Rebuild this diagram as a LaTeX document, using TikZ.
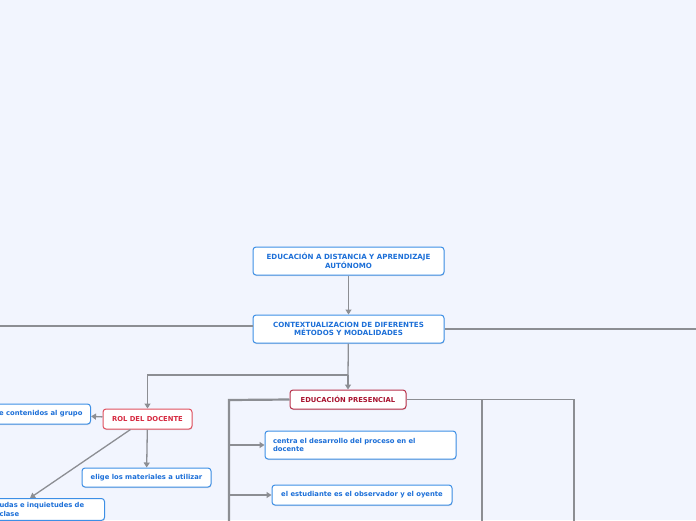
\documentclass[tikz,border=0pt]{standalone}
\usepackage{fontspec}
\newfontfamily\mapfont{DejaVu Sans}
\usepackage{tikz}
\usetikzlibrary{positioning,calc,arrows.meta,shadows}
\definecolor{canvas}{HTML}{F2F5FE}
\definecolor{wire}{HTML}{8C8E93}
\definecolor{topicline}{HTML}{3D8FE6}
\definecolor{topictext}{HTML}{1C6FD8}
\definecolor{rolline}{HTML}{E0505F}
\definecolor{roltext}{HTML}{D6283F}
\definecolor{presline}{HTML}{B8314A}
\definecolor{prestext}{HTML}{A8132F}

\begin{document}
\begin{tikzpicture}[
      x=1pt, y=-1pt,
      >={Triangle[width=6pt,length=5pt]},
      font=\mapfont\bfseries\fontsize{6.8}{8.6}\selectfont,
      box/.style={draw=topicline,fill=white,line width=1pt,rounded corners=3pt,
        text=topictext,inner xsep=7pt,inner ysep=3pt,
        drop shadow={shadow xshift=0.4pt,shadow yshift=-1pt,opacity=0.25}},
      main/.style={box,minimum width=191pt,minimum height=28pt,align=center,
        font=\mapfont\bfseries\fontsize{7.1}{8.8}\selectfont},
      sub/.style={box,draw=rolline,text=roltext,minimum height=20pt},
      pres/.style={box,draw=presline,text=prestext,minimum height=19pt},
      wire/.style={draw=wire,line width=1.3pt},
      trunk/.style={draw=wire,line width=2.2pt},
    ]
    \fill[canvas] (0,0) rectangle (696,520);
    \useasboundingbox (0,0) rectangle (696,520);
    \clip (0,0) rectangle (696,520);

    % central topics
    \node[main] (dist) at (348.5,261) {EDUCACIÓN A DISTANCIA Y APRENDIZAJE\\AUTÓNOMO};
    \node[main] (ctx) at (348.5,329) {CONTEXTUALIZACION DE DIFERENTES\\MÉTODOS Y MODALIDADES};
    \node[sub,minimum width=89pt] (rol) at (147.5,419) {ROL DEL DOCENTE};
    \node[pres,minimum width=116pt] (presencial) at (348,399.5) {EDUCACIÓN PRESENCIAL};

    % rol del docente
    \node[box,minimum height=20pt,anchor=east,inner xsep=8pt] (grupo) at (91,414) {e contenidos al grupo};
    \node[box,minimum width=129pt,minimum height=19pt] (elige) at (146.5,477.5) {elige los materiales a utilizar};
    \node[box,anchor=north west,text width=97pt,align=left,inner xsep=8pt,inner ysep=4pt] (dudas) at (-9,498) {udas e inquietudes de\\clase};

    % educacion presencial
    \node[box,minimum width=191pt,minimum height=28pt,text width=175pt,align=left,inner xsep=8pt] (centra) at (360.5,445) {centra el desarrollo del proceso en el\\docente};
    \node[box,minimum width=180pt,minimum height=20pt] (oyente) at (362,495) {el estudiante es el observador y el oyente};

    \coordinate (split) at (348,375);
    \coordinate (lft) at (-5,326);
    \coordinate (rgt) at (701,329);
    \coordinate (pcorner) at (229,400);
    \coordinate (pbottom) at (229,530);
    \coordinate (pmid) at (482,530);
    \coordinate (pfar) at (574,530);

    \draw[wire,->] (dist) -- (ctx);
    \draw[wire] (ctx.west |- lft) -- (lft);
    \draw[wire] (ctx.east |- rgt) -- (rgt);
    \draw[wire] (ctx) -- (split);
    \draw[wire,->] (split) -- (presencial);
    \draw[wire,->] (split) -| (rol);
    \draw[wire,->] (rol) -- (grupo);
    \draw[wire,->] (rol) -- (elige);
    \draw[wire,->] ([xshift=-17pt]rol.south) -- ([xshift=39pt]dudas.north west);
    \draw[trunk] (presencial.west) -- (pcorner) -- (pbottom);
    \draw[wire,->] (pcorner |- centra) -- (centra);
    \draw[wire,->] (pcorner |- oyente) -- (oyente);
    \draw[wire] (presencial.east) -| (pmid);
    \draw[wire] (presencial.east) -| (pfar);
  \end{tikzpicture}
\end{document}
